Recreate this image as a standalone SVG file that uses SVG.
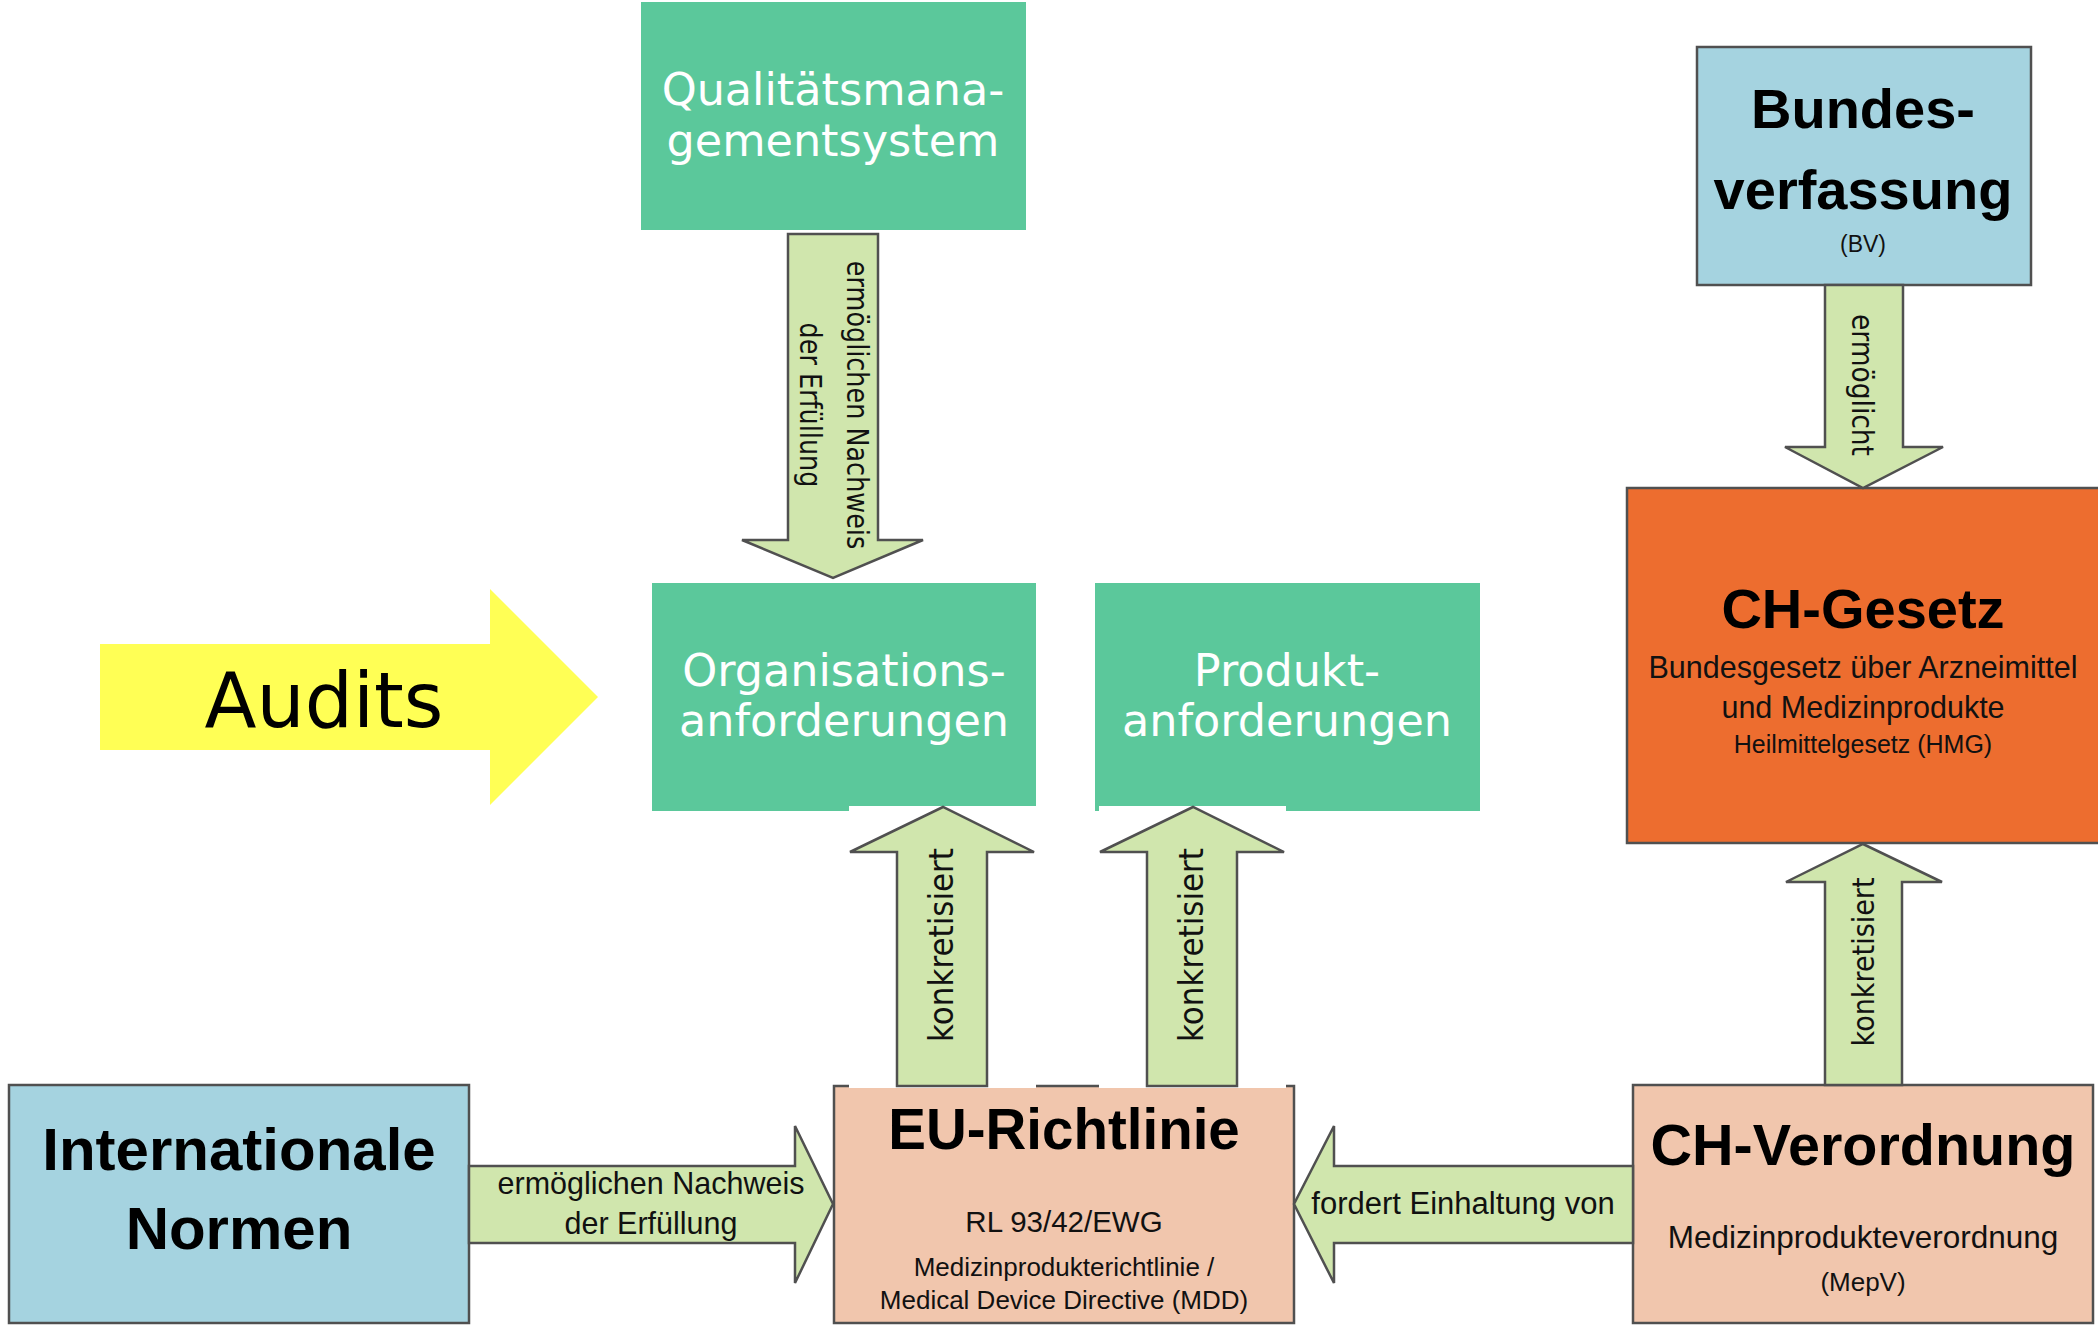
<svg xmlns="http://www.w3.org/2000/svg" width="2098" height="1336" viewBox="0 0 2098 1336">
<style>
.green{fill:#5BC89B}
.blue{fill:#A5D3E0;stroke:#505050;stroke-width:2.5}
.orange{fill:#ED6D2F;stroke:#505050;stroke-width:2.5}
.peach{fill:#F1C6AD;stroke:#505050;stroke-width:2.5}
.arrow{fill:#D0E6AD;stroke:#505050;stroke-width:2.5;stroke-linejoin:miter}
.mask{fill:#FFFFFF}
.wt{font-family:"DejaVu Sans",Verdana,sans-serif;fill:#FFFFFF;text-anchor:middle}
.dv{font-family:"DejaVu Sans",Verdana,sans-serif;fill:#000;text-anchor:middle}
.vt{font-family:"DejaVu Sans",Verdana,sans-serif;fill:#111;text-anchor:middle}
.ls{font-family:"Liberation Sans",Arial,sans-serif;fill:#111;text-anchor:middle}
.lb{font-family:"Liberation Sans",Arial,sans-serif;font-weight:bold;fill:#000;text-anchor:middle}
</style>
<rect width="2098" height="1336" fill="#FFFFFF"/>

<g id="qms">
<rect class="green" x="641" y="2" width="385" height="228"/>
<text class="wt" font-size="44.5" x="833" y="105">Qualitätsmana-</text>
<text class="wt" font-size="44.5" x="833" y="156">gementsystem</text>
</g>

<g id="organisationsanforderungen">
<rect class="green" x="652" y="583" width="384" height="228"/>
<text class="wt" font-size="44.5" x="844" y="686">Organisations-</text>
<text class="wt" font-size="44.5" x="844" y="736">anforderungen</text>
</g>

<g id="produktanforderungen">
<rect class="green" x="1095" y="583" width="385" height="228"/>
<text class="wt" font-size="44.5" x="1287" y="686">Produkt-</text>
<text class="wt" font-size="44.5" x="1287" y="736">anforderungen</text>
</g>

<g id="audits">
<polygon fill="#FFFF55" points="100,644 490,644 490,589 598,697 490,805 490,750 100,750"/>
<text class="dv" font-size="76" x="324" y="727">Audits</text>
</g>

<g id="bundesverfassung">
<rect class="blue" x="1697" y="47" width="334" height="238"/>
<text class="lb" font-size="56" x="1863" y="128">Bundes-</text>
<text class="lb" font-size="56" x="1863" y="209">verfassung</text>
<text class="ls" font-size="23" x="1863" y="252">(BV)</text>
</g>

<g id="ch-gesetz">
<rect class="orange" x="1627" y="488" width="480" height="355"/>
<text class="lb" font-size="56" x="1863" y="628">CH-Gesetz</text>
<text class="ls" font-size="30.5" x="1863" y="678">Bundesgesetz über Arzneimittel</text>
<text class="ls" font-size="30.5" x="1863" y="718">und Medizinprodukte</text>
<text class="ls" font-size="25" x="1863" y="753">Heilmittelgesetz (HMG)</text>
</g>

<g id="internationale-normen">
<rect class="blue" x="9" y="1085" width="460" height="238"/>
<text class="lb" font-size="60" x="239" y="1170">Internationale</text>
<text class="lb" font-size="60" x="239" y="1249">Normen</text>
</g>

<g id="eu-richtlinie">
<rect class="peach" x="834" y="1086" width="460" height="237"/>
<text class="lb" font-size="56.5" x="1064" y="1149">EU-Richtlinie</text>
<text class="ls" font-size="29.5" x="1064" y="1232">RL 93/42/EWG</text>
<text class="ls" font-size="26" x="1064" y="1276">Medizinprodukterichtlinie /</text>
<text class="ls" font-size="26" x="1064" y="1309">Medical Device Directive (MDD)</text>
</g>

<g id="ch-verordnung">
<rect class="peach" x="1633" y="1085" width="460" height="238"/>
<text class="lb" font-size="57.5" x="1863" y="1165">CH-Verordnung</text>
<text class="ls" font-size="31.5" x="1863" y="1248">Medizinprodukteverordnung</text>
<text class="ls" font-size="26" x="1863" y="1291">(MepV)</text>
</g>

<g id="connectors">
<g id="c-qms-org">
<polygon class="arrow" points="788,234 878,234 878,540 923,540 833,578 742,540 788,540"/>
<g transform="translate(847,405) rotate(90) scale(1,1.15)"><text class="vt" font-size="25.5" x="0" y="0">ermöglichen Nachweis</text></g>
<g transform="translate(800,405) rotate(90) scale(1,1.15)"><text class="vt" font-size="25.5" x="0" y="0">der Erfüllung</text></g>
</g>
<g id="c-bv-chg">
<polygon class="arrow" points="1825,285 1903,285 1903,447 1943,447 1863,488 1785,447 1825,447"/>
<g transform="translate(1852,385) rotate(90) scale(1,1.15)"><text class="vt" font-size="26.5" x="0" y="0">ermöglicht</text></g>
</g>
<g id="c-eu-org">
<rect class="mask" x="849" y="806" width="187" height="282"/>
<polygon class="arrow" points="897,1086 897,852 850,852 943,807 1034,852 987,852 987,1086"/>
<g transform="translate(953,945) rotate(-90) scale(1,1.1)"><text class="vt" font-size="31" x="0" y="0">konkretisiert</text></g>
</g>
<g id="c-eu-prod">
<rect class="mask" x="1099" y="806" width="187" height="282"/>
<polygon class="arrow" points="1147,1086 1147,852 1100,852 1193,807 1284,852 1237,852 1237,1086"/>
<g transform="translate(1203,945) rotate(-90) scale(1,1.1)"><text class="vt" font-size="31" x="0" y="0">konkretisiert</text></g>
</g>
<g id="c-chv-chg">
<polygon class="arrow" points="1825,1085 1825,882 1786,882 1863,844 1942,882 1902,882 1902,1085"/>
<g transform="translate(1874,962) rotate(-90) scale(1,1.12)"><text class="vt" font-size="27" x="0" y="0">konkretisiert</text></g>
</g>
<g id="c-normen-eu">
<polygon class="arrow" points="469,1166 795,1166 795,1126 833,1204 795,1283 795,1243 469,1243"/>
<text class="ls" font-size="30.5" x="651" y="1194">ermöglichen Nachweis</text>
<text class="ls" font-size="30.5" x="651" y="1234">der Erfüllung</text>
</g>
<g id="c-chv-eu">
<polygon class="arrow" points="1633,1166 1334,1166 1334,1126 1294,1204 1334,1283 1334,1243 1633,1243"/>
<text class="ls" font-size="31" x="1463" y="1214">fordert Einhaltung von</text>
</g>
</g>
</svg>
